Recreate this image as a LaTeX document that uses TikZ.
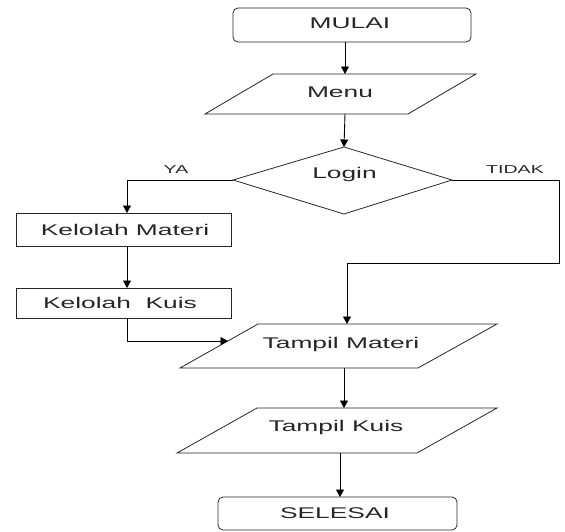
\documentclass[tikz,border=0pt]{standalone}
\usepackage{fontspec}
\setmainfont{Liberation Sans}
\newfontfamily\flowfont[FakeStretch=1.7]{Liberation Sans}
\usetikzlibrary{arrows.meta}
\begin{document}
\begin{tikzpicture}[x=1pt,y=-1pt,
  shapeline/.style={draw=black!85, line width=0.8pt},
  conn/.style={draw=black, line width=0.9pt},
  arr/.style={conn, -{Triangle[length=7.5pt,width=8pt]}},
  lbl/.style={font=\flowfont\fontsize{15.5}{18}\selectfont, text=black!85, anchor=base, inner sep=0pt},
  small/.style={font=\flowfont\fontsize{11.5}{14}\selectfont, text=black!85, anchor=base, inner sep=0pt}]
\useasboundingbox (0,0) rectangle (565,531);
% shapes
\draw[shapeline, rounded corners=5pt] (233,8) rectangle (471,42);
\draw[shapeline] (273,74) -- (476,74) -- (408,114) -- (205,114) -- cycle;
\draw[shapeline] (344,147) -- (452,180) -- (344,214) -- (233,180) -- cycle;
\draw[shapeline] (16,213) rectangle (231,246);
\draw[shapeline] (16,288) rectangle (231,318);
\draw[shapeline] (258,324) -- (497,324) -- (418,368) -- (180,368) -- cycle;
\draw[shapeline] (257,408) -- (497,408) -- (417,453) -- (177,453) -- cycle;
\draw[shapeline, rounded corners=5pt] (218,497) rectangle (457,530);
% texts
\node[lbl] (tMulai) at (350,28.5) {MULAI};
\node[lbl] (tMenu) at (340,97.5) {Menu};
\node[lbl] (tLogin) at (344.5,178) {Login};
\node[small] (tYa) at (176,173.5) {YA};
\node[small] (tTidak) at (515,173) {TIDAK};
\node[lbl] (tKM) at (125,235.7) {Kelolah Materi};
\node[lbl] (tKK) at (120,308) {Kelolah\ \ Kuis};
\node[lbl] (tTM) at (341,348) {Tampil Materi};
\node[lbl] (tTK) at (336,431) {Tampil Kuis};
\node[lbl] (tSel) at (335,518) {SELESAI};
% connector points
\coordinate (mulaiS) at (345,42);
\coordinate (menuN) at (345,74);
\coordinate (menuS) at (345,114);
\coordinate (loginN) at (344,147);
\coordinate (loginW) at (233,180);
\coordinate (loginE) at (452,180);
\coordinate (kmN) at (127,213);
\coordinate (kmS) at (127,246);
\coordinate (kkN) at (127,288);
\coordinate (kkS) at (127,318);
\coordinate (tmW) at (228,341);
\coordinate (tdBend) at (559,263);
\coordinate (tmN) at (347,324);
\coordinate (tmS) at (344,368);
\coordinate (tkN) at (344,408);
\coordinate (tkS) at (340,453);
\coordinate (selN) at (340,497);
% connectors
\draw[arr] (mulaiS) -- (menuN);
\draw[arr] (menuS) -- (loginN);
\draw[arr] (loginW) -| (kmN);
\draw[arr] (kmS) -- (kkN);
\draw[arr] (kkS) |- (tmW);
\draw[arr] (loginE) -| (tdBend) -| (tmN);
\draw[arr] (tmS) -- (tkN);
\draw[arr] (tkS) -- (selN);
\end{tikzpicture}
\end{document}
